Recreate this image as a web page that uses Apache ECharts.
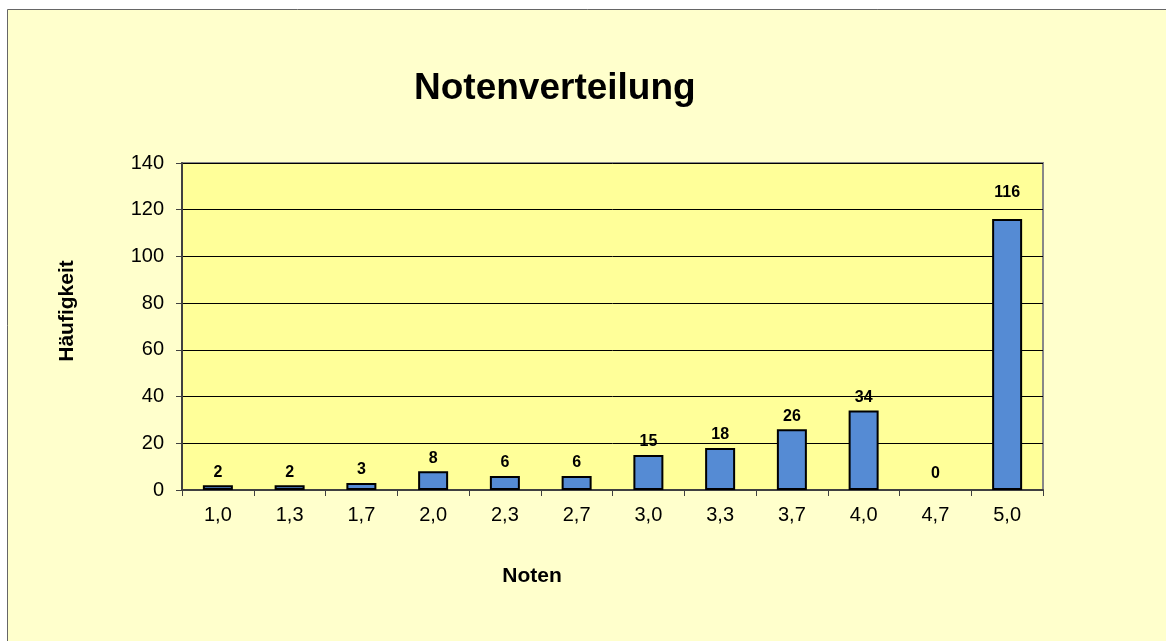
<!DOCTYPE html>
<html>
<head>
<meta charset="utf-8">
<script src="https://cdn.jsdelivr.net/npm/echarts@6/dist/echarts.min.js"></script>
<style>
  html, body { margin: 0; padding: 0; background: #fff; }
  #chart { width: 1166px; height: 641px; }
</style>
</head>
<body>
<div id="chart"></div>
<script>
// grades and how often each was given
var noten = ['1,0', '1,3', '1,7', '2,0', '2,3', '2,7', '3,0', '3,3', '3,7', '4,0', '4,7', '5,0'];
var haeufigkeit = [2, 2, 3, 8, 6, 6, 15, 18, 26, 34, 0, 116];
var yTicks = [0, 20, 40, 60, 80, 100, 120, 140];

var chart = echarts.init(document.getElementById('chart'));

var barData = haeufigkeit.map(function (v) {
  var item = { value: v };
  // Excel placed a few labels higher than the rest
  if (v > 100) item.label = { distance: 18 };
  if (v === 0) {
    item.label = { distance: 8 };
    item.itemStyle = { borderWidth: 0 }; // no flat outline for an empty bar
  }
  return item;
});

var font = 'Arial, "Liberation Sans", sans-serif';

chart.setOption({
  backgroundColor: '#ffffff',
  animation: false,
  graphic: [
    {
      type: 'rect',
      z: -10,
      shape: { x: 7.5, y: 9.5, width: 1200, height: 700 },
      style: { fill: '#FFFFCC', stroke: '#666666', lineWidth: 1 }
    },
    {
      type: 'text',
      x: 532,
      y: 576,
      style: { text: 'Noten', font: 'bold 21px ' + font, fill: '#000', align: 'center', verticalAlign: 'middle' }
    },
    {
      type: 'text',
      x: 67,
      y: 311,
      rotation: Math.PI / 2,
      style: { text: 'Häufigkeit', font: 'bold 21px ' + font, fill: '#000', align: 'center', verticalAlign: 'middle' }
    }
  ],
  title: {
    text: 'Notenverteilung',
    left: 409,
    top: 65,
    textStyle: { fontSize: 37, fontWeight: 'bold', color: '#000', fontFamily: font }
  },
  grid: {
    left: 182,
    right: 123,
    top: 163,
    bottom: 151,
    show: true,
    backgroundColor: '#FFFF99',
    borderColor: '#888888',
    borderWidth: 2
  },
  xAxis: {
    type: 'category',
    data: noten,
    axisLine: { lineStyle: { color: '#404040', width: 2 } },
    axisTick: { show: true, length: 6, lineStyle: { color: '#404040', width: 1 } },
    axisLabel: { fontSize: 20, color: '#000', margin: 15, fontFamily: font }
  },
  yAxis: {
    type: 'value',
    min: 0,
    max: yTicks[yTicks.length - 1],
    interval: yTicks[1] - yTicks[0],
    axisLine: { show: true, lineStyle: { color: '#404040', width: 2 } },
    axisTick: { show: true, length: 6, lineStyle: { color: '#404040', width: 1 } },
    axisLabel: { fontSize: 20, color: '#000', margin: 18, fontFamily: font },
    splitLine: { lineStyle: { color: '#000000', width: 1 } }
  },
  series: [{
    type: 'bar',
    data: barData,
    barWidth: 30,
    itemStyle: { color: '#558BD4', borderColor: '#000', borderWidth: 2 },
    label: {
      show: true,
      position: 'top',
      distance: 5,
      fontSize: 16,
      fontWeight: 'bold',
      color: '#000',
      fontFamily: font
    }
  }]
});
</script>
</body>
</html>
